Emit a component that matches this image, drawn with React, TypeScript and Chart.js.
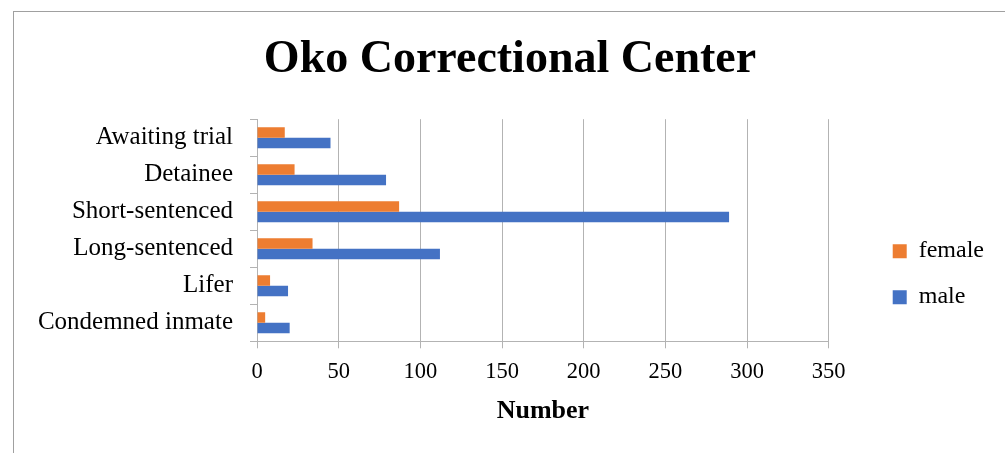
import React, { useEffect, useRef } from "react";
import { Chart, registerables } from "chart.js";

Chart.register(...registerables);

// ---- data ----
const categories = [
  "Awaiting trial",
  "Detainee",
  "Short-sentenced",
  "Long-sentenced",
  "Lifer",
  "Condemned inmate",
];
const femaleValues = [17, 23, 87, 34, 8, 5];
const maleValues = [45, 79, 289, 112, 19, 20];
const seriesNames = ["female", "male"];
const seriesColors = ["#ED7D31", "#4472C4"];
const xMin = 0;
const xMax = 350;
const xStep = 50;
const chartTitle = "Oko Correctional Center";
const xAxisTitle = "Number";

const SERIF = "'Liberation Serif', 'Times New Roman', serif";
const GRID = "#b3b3b3";

export default function App() {
  const canvasRef = useRef<HTMLCanvasElement | null>(null);

  useEffect(() => {
    const canvas = canvasRef.current;
    if (!canvas) return;
    const chart = new Chart(canvas, {
      type: "bar",
      data: {
        labels: categories,
        datasets: [
          {
            label: seriesNames[0],
            data: femaleValues,
            backgroundColor: seriesColors[0],
            xAxisID: "x",
            yAxisID: "y",
          },
          {
            label: seriesNames[1],
            data: maleValues,
            backgroundColor: seriesColors[1],
            xAxisID: "x",
            yAxisID: "y",
          },
        ],
      },
      options: {
        indexAxis: "y",
        responsive: false,
        animation: false,
        datasets: {
          bar: { barPercentage: 1, categoryPercentage: 0.57 },
        },
        layout: { padding: { left: 26, right: 11, top: 0, bottom: 0 } },
        scales: {
          x: {
            type: "linear",
            position: "bottom",
            min: xMin,
            max: xMax,
            ticks: {
              stepSize: xStep,
              color: "#000",
              padding: 10,
              font: { family: SERIF, size: 22.5 },
            },
            grid: { color: GRID, lineWidth: 1, tickLength: 7, drawTicks: true },
            border: { display: true, color: GRID, width: 1 },
            title: {
              display: true,
              text: xAxisTitle,
              color: "#000",
              font: { family: SERIF, size: 26, weight: "bold" },
              padding: { top: 0, bottom: 26.5 },
            },
          },
          y: {
            type: "category",
            position: "left",
            ticks: {
              color: "#000",
              padding: 17,
              font: { family: SERIF, size: 25 },
            },
            grid: {
              drawOnChartArea: false,
              drawTicks: true,
              tickLength: 7,
              color: GRID,
              offset: true,
            },
            border: { display: true, color: GRID, width: 1 },
            afterFit: (s: any) => {
              s.width = 231;
            },
          },
          ySpacer: {
            type: "linear",
            position: "right",
            display: true,
            grid: { display: false, drawTicks: false },
            ticks: { display: false },
            border: { display: false },
            afterFit: (s: any) => {
              s.width = 42;
            },
          },
        },
        plugins: {
          tooltip: { enabled: false },
          title: {
            display: true,
            text: chartTitle,
            color: "#000",
            font: { family: SERIF, size: 46, weight: "bold" },
            padding: { top: 33, bottom: 31 },
          },
          legend: {
            display: true,
            position: "right",
            align: "center",
            labels: {
              boxWidth: 14,
              boxHeight: 14,
              padding: 22,
              color: "#000",
              font: { family: SERIF, size: 24 },
            },
            title: {
              display: true,
              text: " ",
              font: { size: 12 },
              padding: { top: 40, bottom: 41 },
            },
          },
        },
      },
    } as any);
    return () => chart.destroy();
  }, []);

  return (
    <div
      style={{
        position: "absolute",
        left: 0,
        top: 0,
        width: 1005,
        height: 453,
        overflow: "hidden",
        background: "#fff",
      }}
    >
      <div
        style={{
          position: "absolute",
          left: 13,
          top: 11,
          right: 0,
          bottom: 0,
          borderTop: "1px solid #a0a0a0",
          borderLeft: "1px solid #a0a0a0",
        }}
      />
      <canvas
        ref={canvasRef}
        width={1005}
        height={453}
        style={{ position: "absolute", left: 0, top: 0, display: "block" }}
      />
    </div>
  );
}
